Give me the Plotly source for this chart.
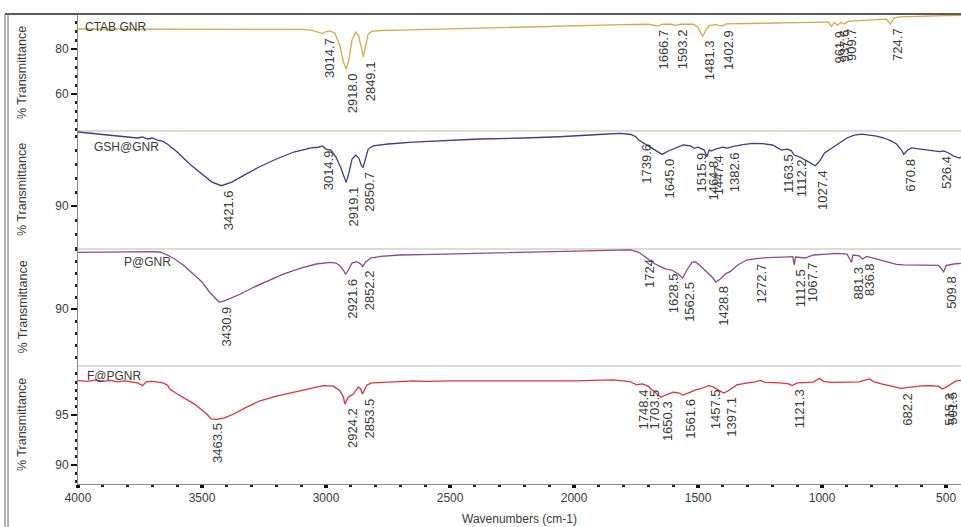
import numpy as np
import plotly.graph_objects as go

# ---------------- data ----------------
series_names = ["CTAB GNR", "GSH@GNR", "P@GNR", "F@PGNR"]

wn_ctab = [4000, 3900, 3800, 3700, 3600, 3500, 3400, 3300, 3200, 3100, 3060, 3030, 3014.7, 3000, 2985,
           2965, 2945, 2930, 2918, 2908, 2895, 2880, 2868, 2856, 2849.1, 2840, 2830, 2815, 2780, 2700,
           2600, 2500, 2400, 2300, 2200, 2100, 2000, 1900, 1800, 1700, 1666.7, 1640, 1610, 1593.2, 1570,
           1520, 1500, 1490, 1481.3, 1470, 1455, 1430, 1402.9, 1385, 1300, 1200, 1100, 1000, 975, 961.9,
           952, 937.6, 925, 909.7, 895, 850, 800, 760, 740, 724.7, 710, 690, 600, 500, 440]
t_ctab = [89.08, 89.08, 88.86, 89.1, 88.95, 89.1, 88.9, 89.1, 89.1, 88.9, 88.6, 87.7, 87.05, 87.95, 88.2,
          87.3, 81.9, 74.3, 71.2, 75.2, 84.2, 87.7, 85.9, 79.7, 76.6, 81.9, 86.8, 88.0, 88.4, 88.6,
          88.9, 89.1, 89.5, 89.7, 89.9, 90.1, 90.65, 90.8, 91.0, 91.2, 90.5, 91.25, 91.2, 90.7, 91.2,
          91.2, 89.9, 87.5, 85.7, 88.3, 90.6, 91.0, 90.5, 91.4, 91.5, 91.6, 91.9, 92.2, 92.3, 90.2,
          92.0, 90.8, 92.0, 91.3, 92.5, 92.8, 93.1, 93.55, 93.5, 91.3, 94.0, 94.5, 94.9, 95.1, 95.2]

wn_gsh = [4000, 3950, 3900, 3850, 3800, 3760, 3740, 3720, 3700, 3680, 3660, 3640, 3600, 3550, 3500,
          3460, 3421.6, 3380, 3330, 3270, 3200, 3130, 3060, 3030, 3014.9, 3000, 2980, 2960, 2940, 2925,
          2919.1, 2910, 2895, 2880, 2868, 2858, 2850.7, 2840, 2830, 2810, 2750, 2650, 2500, 2380, 2200,
          2060, 1900, 1815, 1770, 1750, 1739.6, 1700, 1660, 1645, 1620, 1590, 1560, 1530, 1515.9, 1500,
          1475, 1464.8, 1455, 1447.4, 1430, 1400, 1382.6, 1360, 1320, 1280, 1240, 1200, 1175, 1163.5,
          1140, 1125, 1112.2, 1090, 1060, 1040, 1027.4, 1010, 990, 960, 930, 900, 870, 840, 810, 780,
          750, 720, 700, 680, 670.8, 655, 640, 610, 580, 550, 526.4, 510, 490, 470, 445.3, 440]
t_gsh = [95.29, 95.21, 95.14, 95.04, 94.93, 94.86, 94.93, 94.79, 94.86, 94.71, 94.64, 94.43, 93.86, 93.0, 92.29,
         91.71, 91.45, 91.71, 92.21, 92.79, 93.36, 93.86, 94.16, 94.2, 94.29, 94.07, 94.0, 93.5, 92.71, 91.86,
         91.69, 92.21, 93.36, 93.64, 93.43, 92.93, 92.74, 93.43, 94.07, 94.29, 94.43, 94.57, 94.68, 94.79, 94.86,
         94.95, 95.11, 95.19, 95.11, 94.93, 94.71, 94.29, 93.86, 93.69, 93.93, 94.16, 94.36, 94.29, 94.12, 94.2,
         94.0, 93.52, 94.0, 93.93, 94.07, 94.2, 94.14, 94.24, 94.39, 94.48, 94.46, 94.36, 94.14, 94.0,
         94.07, 93.96, 93.64, 93.5, 93.21, 93.0, 92.88, 93.21, 93.79, 94.14, 94.5, 94.86, 95.07, 95.14, 95.07, 95.0,
         94.86, 94.64, 94.43, 94.0, 93.69, 94.0, 94.16, 94.1, 94.0, 93.96, 93.89, 93.93, 93.79, 93.57, 93.43, 93.5]

wn_p = [4000, 3900, 3800, 3700, 3669, 3640, 3610, 3576, 3540, 3500, 3470, 3445, 3430.9, 3410, 3380,
        3347, 3290, 3238, 3170, 3105, 3040, 2984, 2960, 2944, 2930, 2921.6, 2910, 2895, 2876, 2860,
        2852.2, 2840, 2820, 2780, 2702, 2569, 2379, 2200, 2057, 1900, 1774, 1740, 1724, 1707, 1680,
        1653, 1628.5, 1606, 1580, 1562.5, 1545, 1525, 1510, 1490, 1465, 1440, 1428.8, 1410, 1390, 1371,
        1340, 1304, 1272.7, 1223, 1160, 1118, 1112.5, 1107, 1067.7, 1035, 980, 941, 900, 881.3, 876,
        850, 836.8, 820, 790, 740, 700, 672, 600, 530, 509.8, 500, 470, 440]
t_p = [94.72, 94.75, 94.79, 94.78, 94.75, 94.5, 94.17, 93.67, 93.0, 92.25, 91.42, 90.83, 90.56, 90.67, 90.92,
       91.23, 91.83, 92.33, 92.92, 93.39, 93.75, 93.89, 93.83, 93.61, 93.25, 92.89, 93.25, 93.83, 93.94, 93.75,
       93.53, 93.92, 94.25, 94.38, 94.5, 94.56, 94.64, 94.71, 94.83, 94.88, 94.92, 94.75, 94.5, 94.25, 93.83,
       93.53, 93.33, 93.25, 92.92, 92.56, 93.25, 93.88, 93.92, 93.58, 93.11, 92.58, 92.25, 92.5, 92.92, 93.11,
       93.67, 94.08, 94.17, 94.28, 94.33, 94.36, 93.67, 94.33, 94.25, 94.5, 94.58, 94.64, 94.58, 93.88, 94.5,
       94.42, 94.17, 94.38, 94.22, 93.92, 93.71, 93.67, 93.67, 93.63, 93.11, 93.61, 93.75, 93.81]

wn_f = [4000, 3960, 3930, 3900, 3870, 3840, 3810, 3790, 3760, 3740, 3725, 3700, 3680, 3657, 3640,
        3630, 3600, 3562, 3530, 3508, 3480, 3463.5, 3440, 3410, 3374, 3320, 3266, 3200, 3132, 3070,
        3011, 2971, 2944, 2930, 2924.2, 2910, 2890, 2870, 2860, 2853.5, 2835, 2816, 2760, 2702, 2650,
        2600, 2500, 2379, 2200, 2000, 1843, 1774, 1748.4, 1725, 1703.5, 1674, 1650.3, 1630, 1600, 1575,
        1561.6, 1540, 1510, 1492, 1457.5, 1440, 1425, 1397.1, 1380, 1344, 1300, 1270, 1250, 1230, 1170,
        1135, 1121.3, 1100, 1035, 1010, 995, 960, 900, 850, 810, 790, 760, 720, 682.2, 650,
        600, 560, 530, 515.3, 501.5, 480, 460, 440]
t_f = [98.5, 98.42, 98.57, 98.42, 98.52, 98.37, 98.47, 98.37, 98.27, 97.99, 98.37, 98.42, 98.32, 98.27, 98.06,
       97.65, 97.14, 96.63, 96.12, 95.68, 95.1, 94.64, 94.59, 94.74, 95.1, 95.82, 96.46, 96.94, 97.32, 97.7,
       97.99, 97.93, 97.48, 96.84, 96.12, 96.84, 97.14, 97.83, 97.65, 97.14, 98.06, 98.27, 98.37, 98.4, 98.47,
       98.42, 98.47, 98.44, 98.47, 98.47, 98.57, 98.4, 98.06, 98.16, 97.96, 97.32, 96.81, 97.04, 97.32, 97.24,
       97.04, 97.24, 97.55, 97.65, 97.99, 97.86, 97.65, 97.24, 97.45, 98.06, 98.27, 98.37, 98.52, 98.32, 98.27,
       98.16, 97.99, 98.27, 98.34, 98.74, 98.42, 98.32, 98.34, 98.37, 98.67, 98.37, 98.16, 97.96, 97.72, 97.81,
       97.96, 97.99, 97.91, 97.65, 97.81, 98.16, 98.47, 98.52]

peaks_ctab = ["3014.7", "2918.0", "2849.1", "1666.7", "1593.2", "1481.3", "1402.9", "961.9", "937.6", "909.7", "724.7"]
peaks_gsh = ["3421.6", "3014.9", "2919.1", "2850.7", "1739.6", "1645.0", "1515.9", "1464.8", "1447.4", "1382.6",
             "1163.5", "1112.2", "1027.4", "670.8", "526.4", "445.3"]
peaks_p = ["3430.9", "2921.6", "2852.2", "1724", "1628.5", "1562.5", "1428.8", "1272.7", "1112.5", "1067.7",
           "881.3", "836.8", "509.8"]
peaks_f = ["3463.5", "2924.2", "2853.5", "1748.4", "1703.5", "1650.3", "1561.6", "1457.5", "1397.1", "1121.3",
           "682.2", "515.3", "501.5"]

x_ticks = [4000, 3500, 3000, 2500, 2000, 1500, 1000, 500]

# ---------------- styling ----------------
FONT = "Liberation Sans, Arial, sans-serif"
colors = ["#d3ab4e", "#3b3f86", "#8b4a89", "#e0333f"]
W, H = 961, 527
ML, MR, MT, MB = 78, 0, 15, 43
PH = H - MT - MB
PW = W - ML - MR

def py(p):  # pixel row -> paper y
    return (H - MB - p) / PH

def px(p):  # pixel column -> paper x
    return (p - ML) / PW

domains = [[py(131), 1.0], [py(249), py(131)], [py(366), py(249)], [0.0, py(366)]]
ranges = [[43.4, 95.35], [86.93, 95.36], [85.25, 95.0], [88.06, 99.97]]
dticks = [20, 10, 10, 5]
minors = [4, 1, 1, 5 / 6]
minor0 = [0, 0, 0, 90]

data = [(wn_ctab, t_ctab, peaks_ctab), (wn_gsh, t_gsh, peaks_gsh), (wn_p, t_p, peaks_p), (wn_f, t_f, peaks_f)]
name_pos = [(3980, 90.0), (3944, 94.24), (3823, 93.94), (3972, 98.95)]

fig = go.Figure()
annotations = []
for i, (wn, tv, peaks) in enumerate(data):
    yname = "y" if i == 0 else f"y{i + 1}"
    fig.add_trace(go.Scatter(x=wn, y=tv, mode="lines", xaxis="x", yaxis=yname,
                             line=dict(color=colors[i], width=1.3), showlegend=False,
                             hoverinfo="skip"))
    order = np.argsort(wn)
    ws = np.asarray(wn, float)[order]
    ts = np.asarray(tv, float)[order]
    for lab in peaks:
        v = float(lab)
        yv = float(np.interp(v, ws, ts))
        annotations.append(dict(x=v, y=yv, xref="x", yref=yname, text=lab, showarrow=False,
                                textangle=-90, xanchor="center", yanchor="top", xshift=7, yshift=-2,
                                font=dict(family=FONT, size=13, color="#3a3a3a")))
    annotations.append(dict(x=name_pos[i][0], y=name_pos[i][1], xref="x", yref=yname,
                            text=series_names[i], showarrow=False, xanchor="left", yanchor="middle",
                            font=dict(family=FONT, size=12, color="#3a3a3a")))
    annotations.append(dict(x=px(22), y=0.5, xref="paper", yref=f"{yname} domain",
                            text="% Transmittance", showarrow=False, textangle=-90,
                            xanchor="center", yanchor="middle",
                            font=dict(family=FONT, size=12.5, color="#3a3a3a")))

annotations.append(dict(x=0.5, y=py(519), xref="paper", yref="paper", text="Wavenumbers (cm-1)",
                        showarrow=False, xanchor="center", yanchor="middle",
                        font=dict(family=FONT, size=12, color="#3a3a3a")))

layout = dict(
    width=W, height=H, margin=dict(l=ML, r=MR, t=MT, b=MB, pad=0),
    paper_bgcolor="white", plot_bgcolor="white",
    font=dict(family=FONT, size=12, color="#3a3a3a"),
    annotations=annotations,
    xaxis=dict(range=[4000, 440], anchor="y4", domain=[0, 1], showgrid=False, zeroline=False,
               tickvals=x_ticks, ticks="outside", ticklen=3, tickwidth=4, tickcolor="#111",
               showline=True, linecolor="#8a8a8a", linewidth=1,
               tickfont=dict(family=FONT, size=12, color="#3a3a3a"),
               minor=dict(dtick=100, tick0=0, ticks="outside", ticklen=2, tickwidth=3, tickcolor="#222")),
)
for i in range(4):
    key = "yaxis" if i == 0 else f"yaxis{i + 1}"
    layout[key] = dict(domain=domains[i], range=ranges[i], anchor="x", showgrid=False, zeroline=False,
                       dtick=dticks[i], tick0=0, ticks="outside", ticklen=6, tickwidth=2, tickcolor="#111",
                       showline=True, linecolor="#8a8a8a", linewidth=1,
                       tickfont=dict(family=FONT, size=12, color="#3a3a3a"),
                       minor=dict(dtick=minors[i], tick0=minor0[i], ticks="outside", ticklen=2,
                                  tickwidth=3, tickcolor="#222"))

shapes = []
for p in (131, 249, 366):
    shapes.append(dict(type="line", xref="paper", yref="paper", x0=0, x1=1, y0=py(p), y1=py(p),
                       line=dict(color="#dcdcd2", width=2), layer="below"))
shapes.append(dict(type="line", xref="paper", yref="paper", x0=px(5), x1=1, y0=py(14), y1=py(14),
                   line=dict(color="#5a5a5a", width=2)))
shapes.append(dict(type="line", xref="paper", yref="paper", x0=px(5), x1=px(5), y0=py(14), y1=py(527),
                   line=dict(color="#6a6a6a", width=1)))
shapes.append(dict(type="line", xref="paper", yref="paper", x0=px(8), x1=px(8), y0=py(14), y1=py(527),
                   line=dict(color="#6a6a6a", width=1)))
layout["shapes"] = shapes

fig.update_layout(**layout)
fig.write_html("out.html", config={"displayModeBar": False},
               post_script="document.body.style.margin='0';document.body.style.overflow='hidden';")
